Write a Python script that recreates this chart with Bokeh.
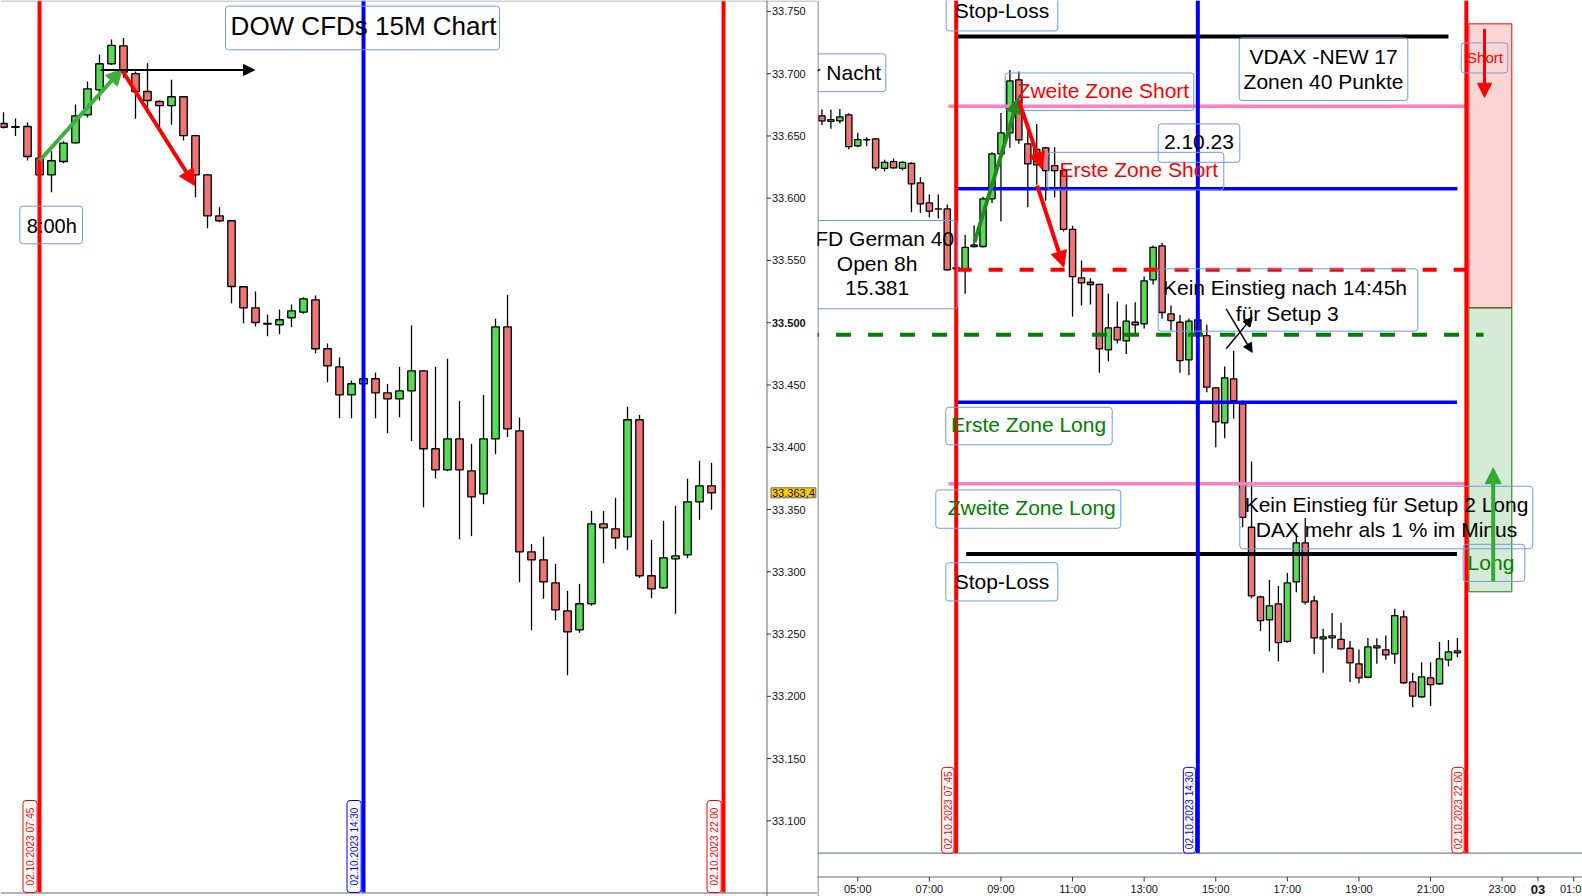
import math
from bokeh.plotting import figure
from bokeh.layouts import row
from bokeh.models import (ColumnDataSource, BoxAnnotation, Label, Arrow, NormalHead)
from bokeh.core.properties import value
from bokeh.embed import file_html
from bokeh.resources import INLINE

FONT = "Liberation Sans"

# ---------------- DOW CFDs 15M (left panel) ----------------
dow_time = ["07:00","07:15","07:30","07:45","08:00","08:15","08:30","08:45","09:00","09:15",
            "09:30","09:45","10:00","10:15","10:30","10:45","11:00","11:15","11:30","11:45",
            "12:00","12:15","12:30","12:45","13:00","13:15","13:30","13:45","14:00","14:15",
            "14:30","14:45","15:00","15:15","15:30","15:45","16:00","16:15","16:30","16:45",
            "17:00","17:15","17:30","17:45","18:00","18:15","18:30","18:45","19:00","19:15",
            "19:30","19:45","20:00","20:15","20:30","20:45","21:00","21:15","21:30","21:45"]
dow_open = [33660,33657,33657.6,33632.2,33618.8,33629.5,33644.5,33667,33687.1,33708,
            33722.4,33700,33685.7,33677.7,33674.3,33681.5,33650.2,33618.8,33585.9,33581.9,
            33528.9,33512,33499.5,33498.4,33504,33508.5,33518.4,33479.1,33464.6,33442.1,
            33451,33455,33443.7,33438.9,33445.3,33461.4,33398.8,33381.9,33406.8,33381.1,
            33362.6,33406.8,33496.7,33413.2,33316,33309.6,33291.1,33268.6,33253.4,33274.3,
            33338.5,33334.5,33328.1,33422.1,33296.8,33287.1,33310.4,33313.6,33356.2,33369]
dow_high = [33669,33664,33661,33633,33637.8,33646,33675.3,33693.8,33715.5,33727.5,
            33728.6,33701.8,33708.5,33678.5,33695.1,33682,33651,33619,33592.8,33582,
            33529,33525.1,33506.6,33510.6,33514.7,33520.5,33521.9,33483.3,33472.1,33453.6,
            33456,33460,33450.9,33464.6,33497.8,33462,33464.6,33471.1,33437.3,33402.8,
            33442.1,33503.2,33522.4,33423.9,33322.4,33328.1,33306.4,33284.7,33290.3,33348.9,
            33348.9,33359.4,33432.5,33426,33325.7,33340.9,33353,33374.7,33389.1,33387.5]
dow_low = [33656,33650,33630.3,33618,33604.9,33628,33644,33664.9,33678.5,33707,
           33696.7,33663.8,33671.8,33657.1,33659,33646.4,33600.8,33575.9,33580.8,33515.7,
           33499.6,33497,33489.2,33490.8,33496.4,33507.2,33475.5,33452.2,33423.3,33423.3,
           33450,33423.3,33411.3,33424.1,33404.9,33351.8,33375.1,33380.8,33326.1,33328.6,
           33354.3,33394.4,33408.1,33291.6,33253.1,33278.3,33261.1,33216.9,33251,33272.7,
           33306.9,33318.4,33317.6,33295.1,33278.8,33286.3,33266.2,33311,33341.7,33349.8]
dow_close = [33657,33657.5,33633.5,33618.8,33630.1,33644.2,33666.2,33687.9,33708,33722.7,
             33701.2,33685.7,33678.5,33674.3,33681.5,33650.2,33618.8,33585.9,33581.9,33529.1,
             33512,33500.2,33499,33502.4,33509.6,33519.2,33479.1,33465.4,33442.1,33451,
             33455,33443.7,33438.9,33445.3,33461.4,33398.8,33381.9,33406.8,33381.9,33360.2,
             33406.8,33496.7,33414.8,33316,33309.6,33291.9,33269.4,33251.8,33274.3,33338.5,
             33335.3,33327.3,33422.1,33296.8,33286.3,33311.2,33312.8,33356.2,33369,33363.4]
dow_ticks = [33100,33150,33200,33250,33300,33350,33400,33450,33500,33550,33600,33650,33700,33750]
dow_tick_labels = ["33.100","33.150","33.200","33.250","33.300","33.350","33.400","33.450",
                   "33.500","33.550","33.600","33.650","33.700","33.750"]
dow_last = 33363.4
dow_last_label = "33.363,4"

# ---------------- DAX CFD 15M (right panel) ----------------
dax_time = ["04:00","04:15","04:30","04:45","05:00","05:15","05:30","05:45","06:00","06:15",
            "06:30","06:45","07:00","07:15","07:30","07:45","08:00","08:15","08:30","08:45",
            "09:00","09:15","09:30","09:45","10:00","10:15","10:30","10:45","11:00","11:15",
            "11:30","11:45","12:00","12:15","12:30","12:45","13:00","13:15","13:30","13:45",
            "14:00","14:15","14:30","14:45","15:00","15:15","15:30","15:45","16:00","16:15",
            "16:30","16:45","17:00","17:15","17:30","17:45","18:00","18:15","18:30","18:45",
            "19:00","19:15","19:30","19:45","20:00","20:15","20:30","20:45","21:00","21:15",
            "21:30","21:45"]
dax_open = [15456.9,15454.2,15454.4,15457.4,15442.1,15445.2,15445.5,15431,15434.3,15431,
            15433.5,15423.9,15414,15411,15411,15382,15381,15392.5,15392.5,15416,
            15438.1,15448.5,15474.6,15443.1,15432.7,15441.1,15432.4,15429.9,15400.9,15377.1,
            15374.9,15373.9,15341.6,15352.7,15346,15355.2,15354.4,15376.1,15392.8,15359.3,
            15355.2,15336.7,15356.4,15348.6,15322.9,15305.6,15327.3,15315,15254.2,15219.9,
            15208.6,15216.5,15198,15227.3,15246.5,15217.9,15199.2,15200.7,15199,15194.6,
            15186.9,15180.3,15195.8,15193.8,15191.8,15210.1,15178,15170.7,15180,15177.1,
            15188.9,15192.3]
dax_high = [15460,15460,15460.3,15458.1,15448.5,15446.3,15446,15435.2,15435.7,15434.5,
            15434,15426.6,15418.1,15418.1,15413.2,15386,15398.2,15402.8,15417,15439,
            15458.3,15479.5,15478.7,15449.6,15452.9,15441.7,15441.4,15430.9,15402.7,15385.6,
            15376.9,15374.2,15369.3,15365.4,15363.9,15365,15377.7,15393,15394.3,15363.4,
            15358.8,15357,15359,15354.1,15323.3,15333.4,15341.2,15316.6,15286.6,15220.5,
            15228.3,15225.3,15231.7,15251,15258.8,15220.4,15204.2,15212,15207.1,15198.2,
            15194,15199.7,15199.5,15200.9,15214,15213.2,15182.5,15187.7,15187.7,15197.7,
            15198.7,15199.7]
dax_low = [15452.4,15450.5,15453.2,15440.4,15441.4,15441.9,15429.9,15429.4,15430.8,15430,
           15409.4,15409.2,15406.9,15406.3,15380.6,15376,15369.2,15392,15392,15414,
           15404.9,15441.2,15443.1,15411.8,15422.9,15415.1,15416.8,15399.9,15358,15363.4,
           15363.9,15330.3,15336,15344.7,15339.6,15349.5,15352.1,15373.8,15356.9,15351.1,
           15330.3,15329.1,15347.2,15320.7,15293.6,15298,15307.6,15254.2,15219.2,15203,
           15193.1,15188.2,15197.3,15222.2,15216.1,15191.8,15182.5,15194.6,15194,15177.9,
           15177.4,15179.8,15186.9,15188.9,15186.9,15177.1,15165.5,15170.2,15166.2,15176.6,
           15185.7,15190.2]
dax_close = [15454.4,15455,15456.4,15441.7,15445.2,15445,15431.2,15434,15431.2,15434,
             15423.4,15413.5,15409.9,15410.9,15381,15381.5,15392.1,15393.3,15416,15438.1,
             15448.5,15474.1,15445,15433.2,15440.3,15429.9,15429.9,15400.9,15377.7,15374.6,
             15373.8,15342.1,15352.4,15346.5,15355.7,15353.9,15375.6,15392.1,15360,15356,
             15336.3,15355.7,15349.5,15323.2,15306.1,15327.8,15316.6,15259.1,15220.4,15208.2,
             15215.5,15197.4,15226.8,15246.5,15217.3,15199.7,15200.2,15199.7,15194.3,15187.4,
             15180,15195.3,15194.8,15191.3,15210.7,15177.6,15171,15180.5,15176.7,15189.4,
             15192.8,15193.3]
dax_tick_hours = [5, 7, 9, 11, 13, 15, 17, 19, 21, 23, 24, 25]
dax_tick_labels = ["05:00","07:00","09:00","11:00","13:00","15:00","17:00","19:00","21:00","23:00","03","01:00"]

# DAX levels (price) and their time spans (hours)
lvl_name  = ["sl_short", "zone2_short", "zone1_short", "open", "prev", "zone1_long", "zone2_long", "sl_long"]
lvl_price = [15496, 15461.6, 15421, 15381, 15349, 15315.8, 15275.6, 15241]
lvl_start = [7.75, 7.53, 7.75, 7.79, 3.5, 7.75, 7.53, 8.03]
lvl_end   = [21.5, 22.0, 21.75, 22.51, 22.48, 21.74, 22.0, 21.74]

# session markers
marker_time = ["07:45", "14:30", "22:00"]
marker_label = ["02.10.2023 07:45", "02.10.2023 14:30", "02.10.2023 22:00"]
marker_color = ["#ff0000", "#0000ff", "#ff0000"]

GREEN_BODY = "#5ad85a"
RED_BODY = "#ec7676"
BOX_LINE = "#6f9be8"
AXIS_GREY = "#5f6a72"


def hours(t):
    hh, mm = t.split(":")
    return int(hh) + int(mm) / 60.0


def draw_candles(p, times, o, h, l, c, width):
    x = [hours(t) for t in times]
    src = ColumnDataSource(dict(
        x=x, h=h, l=l,
        top=[max(a, b) for a, b in zip(o, c)],
        bottom=[min(a, b) for a, b in zip(o, c)],
        color=[GREEN_BODY if cc > oo else RED_BODY for oo, cc in zip(o, c)]))
    p.segment(x0="x", y0="h", x1="x", y1="l", source=src, line_color="black", line_width=1.3)
    p.vbar(x="x", width=width, top="top", bottom="bottom", fill_color="color",
           line_color="black", line_width=1.3, source=src)


def tbox(p, l, r, b, t, color=BOX_LINE, fill=None):
    p.add_layout(BoxAnnotation(left=l, right=r, bottom=b, top=t,
                               fill_color=fill if fill else "white",
                               fill_alpha=1 if fill else 0,
                               line_color=color, line_alpha=1, line_width=1, border_radius=3))


def txt(p, x, y, s, size="21px", color="black", align="center", style="normal", angle=0):
    p.add_layout(Label(x=x, y=y, text=s, text_font=FONT, text_font_size=size,
                       text_color=color, text_align=align, text_baseline="middle",
                       text_font_style=style, angle=angle))


def arrow(p, x0, y0, x1, y1, color, w, head):
    p.add_layout(Arrow(x_start=x0, y_start=y0, x_end=x1, y_end=y1, line_color=color,
                       line_width=w, end=NormalHead(size=head, fill_color=color,
                                                    line_color=color, line_width=1)))


def make_fig(xr, yr, w, h):
    p = figure(x_range=xr, y_range=yr, frame_width=w, frame_height=h,
               min_border_left=0, min_border_right=0, min_border_top=0, min_border_bottom=0,
               toolbar_location=None, output_backend="svg",
               x_axis_location=None, y_axis_location=None)
    p.background_fill_color = "white"
    p.border_fill_color = "white"
    p.outline_line_color = None
    p.xgrid.visible = False
    p.ygrid.visible = False
    return p


# =============== LEFT FIGURE (includes its own price scale) ===============
LW, LH = 817, 896
LXR = (6.9375, 23.958)
LYR = (33039.2, 33758.8)
left = make_fig(LXR, LYR, LW, LH)
lpx = LW / (LXR[1] - LXR[0])          # px per hour
lpy = LH / (LYR[1] - LYR[0])          # px per point


def lx(px):
    return LXR[0] + px / lpx


def ly(py):
    return LYR[1] - py / lpy


draw_candles(left, dow_time, dow_open, dow_high, dow_low, dow_close, 7.5 / lpx)

for t, lab, col in zip(marker_time, marker_label, marker_color):
    xh = hours(t)
    left.segment(x0=[xh], y0=[ly(892)], x1=[xh], y1=[LYR[1]], line_color=col, line_width=4)
    tbox(left, xh - 16.5 / lpx, xh - 2.4 / lpx, ly(892), 33116.3, color=col, fill="white")
    txt(left, xh - 9.5 / lpx, (33116.3 + ly(892)) / 2, lab, size="10px", color=col, angle=math.pi / 2)

# title and label
tbox(left, 11.625, 17.333, 33719.2, 33754.3)
txt(left, 14.5, 33738.0, "DOW CFDs 15M Chart", size="26px")
tbox(left, 7.340, 8.646, 33563.4, 33593.6)
txt(left, 8.006, 33578.0, "8:00h", size="20px")

arrow(left, 7.756, 33630.3, 9.473, 33703.9, "#3cb03c", 4, 16)
arrow(left, 9.473, 33702.6, 10.985, 33610.2, "#ff0000", 4, 16)
arrow(left, 9.021, 33703.0, 12.229, 33703.0, "#000000", 2, 11)

# price scale (drawn by hand so the current-price tag can sit on it)
left.segment(x0=[lx(0)], y0=[ly(0.5)], x1=[lx(817)], y1=[ly(0.5)], line_color="#9aa3aa", line_width=1)
left.segment(x0=[lx(0)], y0=[ly(892.5)], x1=[lx(817)], y1=[ly(892.5)], line_color=AXIS_GREY, line_width=1)
left.segment(x0=[lx(766.5)], y0=[LYR[0]], x1=[lx(766.5)], y1=[LYR[1]], line_color=AXIS_GREY, line_width=1)
n = len(dow_ticks)
left.segment(x0=[lx(766.5)] * n, y0=dow_ticks, x1=[lx(770.5)] * n, y1=dow_ticks,
             line_color="#333333", line_width=1)
tick_src = ColumnDataSource(dict(
    x=[lx(771.5)] * n, y=dow_ticks, text=dow_tick_labels,
    style=["bold" if t == 33500 else "normal" for t in dow_ticks]))
left.text(x="x", y="y", text="text", source=tick_src, text_font=value(FONT),
          text_font_size="11px", text_font_style="style", text_color="#111111",
          text_baseline="middle", text_align="left")
left.add_layout(Label(x=lx(770.5), y=dow_last, text=dow_last_label, text_font=FONT,
                      text_font_size="11px", text_color="#111111", text_baseline="middle",
                      text_align="left", background_fill_color="#ffcc00",
                      border_line_color="#6a6a6a", padding=1))

# =============== RIGHT FIGURE ===============
RW, RH = 765, 896
RXR = (3.8757, 25.2444)
RYR = (15072.3, 15513.7)
right = make_fig(RXR, RYR, RW, RH)
rpx = RW / (RXR[1] - RXR[0])
rpy = RH / (RYR[1] - RYR[0])


def rx(px):
    return RXR[0] + (px - 817) / rpx


def ry(py):
    return RYR[1] - py / rpy


SEP = ry(852.6)
AXY = ry(876.5)

# shaded target boxes
right.add_layout(BoxAnnotation(left=22.07, right=23.27, bottom=15362.3, top=15502.2,
                               fill_color="#ff0000", fill_alpha=0.17, line_color="#ff0000",
                               line_alpha=1, line_width=1, level="underlay"))
right.add_layout(BoxAnnotation(left=22.07, right=23.27, bottom=15222.4, top=15362.3,
                               fill_color="#2e9b2e", fill_alpha=0.2, line_color="#117711",
                               line_alpha=1, line_width=1, level="underlay"))

draw_candles(right, dax_time, dax_open, dax_high, dax_low, dax_close, 6.3 / rpx)

lvl_style = {
    "sl_short": ("black", 4, "solid"), "zone2_short": ("#ff80c0", 3.5, "solid"),
    "zone1_short": ("#0000ff", 3.5, "solid"), "open": ("#ff0000", 4, "14 17"),
    "prev": ("#008000", 4, "15 17"), "zone1_long": ("#0000ff", 3.5, "solid"),
    "zone2_long": ("#ff80c0", 3.5, "solid"), "sl_long": ("black", 4, "solid")}
for nm, pr, s, e in zip(lvl_name, lvl_price, lvl_start, lvl_end):
    col, w, dash = lvl_style[nm]
    right.segment(x0=[s], y0=[pr], x1=[e], y1=[pr], line_color=col, line_width=w, line_dash=dash)

# frame lines and time scale
right.segment(x0=[rx(817.5)], y0=[RYR[0]], x1=[rx(817.5)], y1=[RYR[1]], line_color=AXIS_GREY, line_width=1)
right.segment(x0=[RXR[0]], y0=[SEP], x1=[RXR[1]], y1=[SEP], line_color=AXIS_GREY, line_width=1)
right.segment(x0=[RXR[0]], y0=[AXY], x1=[RXR[1]], y1=[AXY], line_color=AXIS_GREY, line_width=1)
m = len(dax_tick_hours)
right.segment(x0=dax_tick_hours, y0=[AXY] * m, x1=dax_tick_hours, y1=[ry(881)] * m,
              line_color="#333333", line_width=1)
xl_src = ColumnDataSource(dict(
    x=dax_tick_hours, y=[ry(888.5)] * m, text=dax_tick_labels,
    style=["bold" if s == "03" else "normal" for s in dax_tick_labels],
    size=["13px" if s == "03" else "11px" for s in dax_tick_labels]))
right.text(x="x", y="y", text="text", source=xl_src, text_font=value(FONT),
           text_font_size="size", text_font_style="style", text_color="#111111",
           text_baseline="middle", text_align="center")

for t, lab, col in zip(marker_time, marker_label, marker_color):
    xh = hours(t)
    right.segment(x0=[xh], y0=[SEP], x1=[xh], y1=[RYR[1]], line_color=col, line_width=4)
    tbox(right, xh - 14.5 / rpx, xh - 2.2 / rpx, SEP, 15135.9, color=col, fill="white")
    txt(right, xh - 8.2 / rpx, (SEP + 15135.9) / 2, lab, size="10px", color=col, angle=math.pi / 2)

# text boxes
tbox(right, 7.471, 10.588, 15498.7, 15518.0)
txt(right, 9.029, 15508.6, "Stop-Loss")
tbox(right, 2.5, 5.784, 15468.8, 15487.4)
txt(right, 5.655, 15478.2, "über Nacht", align="right")
tbox(right, 2.5, 7.778, 15361.8, 15405.3)
txt(right, 5.54, 15396.6, "CFD German 40")
txt(right, 5.54, 15384.0, "Open 8h")
txt(right, 5.54, 15372.1, "15.381")
tbox(right, 9.119, 14.387, 15459.5, 15478.0)
txt(right, 11.862, 15469.3, "Zweite Zone Short", color="#ff0000")
tbox(right, 13.393, 15.672, 15434.0, 15452.9)
txt(right, 14.53, 15444.0, "2.10.23")
tbox(right, 10.308, 15.225, 15420.4, 15438.9)
txt(right, 12.85, 15430.5, "Erste Zone Short", color="#ff0000")
tbox(right, 15.655, 20.365, 15464.4, 15495.3)
txt(right, 18.011, 15486.1, "VDAX -NEW 17")
txt(right, 18.011, 15473.9, "Zonen 40 Punkte")
tbox(right, 21.856, 23.158, 15478.0, 15492.8)
txt(right, 22.521, 15485.6, "Short", size="15px", color="#ff0000")
tbox(right, 13.393, 20.644, 15350.8, 15381.5)
txt(right, 16.934, 15372.1, "Kein Einstieg nach 14:45h")
txt(right, 16.996, 15359.6, "für Setup 3")
tbox(right, 7.459, 12.108, 15294.8, 15313.3)
txt(right, 9.770, 15304.6, "Erste Zone Long", color="#008000")
tbox(right, 7.180, 12.348, 15253.7, 15272.6)
txt(right, 9.859, 15263.8, "Zweite Zone Long", color="#008000")
tbox(right, 7.459, 10.588, 15217.9, 15236.7)
txt(right, 9.029, 15227.4, "Stop-Loss")
tbox(right, 15.672, 23.856, 15243.6, 15274.4)
txt(right, 19.77, 15265.4, "Kein Einstieg für Setup 2 Long")
txt(right, 19.77, 15252.9, "DAX mehr als 1 % im Minus")
tbox(right, 21.912, 23.633, 15227.5, 15245.8)
txt(right, 22.688, 15236.8, "Long", color="#008000")

# arrows
arrow(right, 8.261, 15394.6, 9.499, 15466.0, "#1e8c1e", 4, 16)
arrow(right, 9.499, 15464.4, 10.147, 15430.8, "#ff0000", 4, 16)
arrow(right, 10.013, 15422.5, 10.756, 15382.3, "#ff0000", 4, 16)
arrow(right, 15.292, 15361.8, 16.018, 15340.4, "#000000", 1.5, 9)
arrow(right, 15.292, 15342.1, 16.018, 15357.6, "#000000", 1.5, 9)
arrow(right, 22.507, 15499.7, 22.507, 15466.0, "#ff0000", 3, 14)
arrow(right, 22.75, 15227.6, 22.75, 15283.5, "#33aa33", 4, 16)

layout = row(left, right)
open("out.html", "w").write(file_html(layout, INLINE))
